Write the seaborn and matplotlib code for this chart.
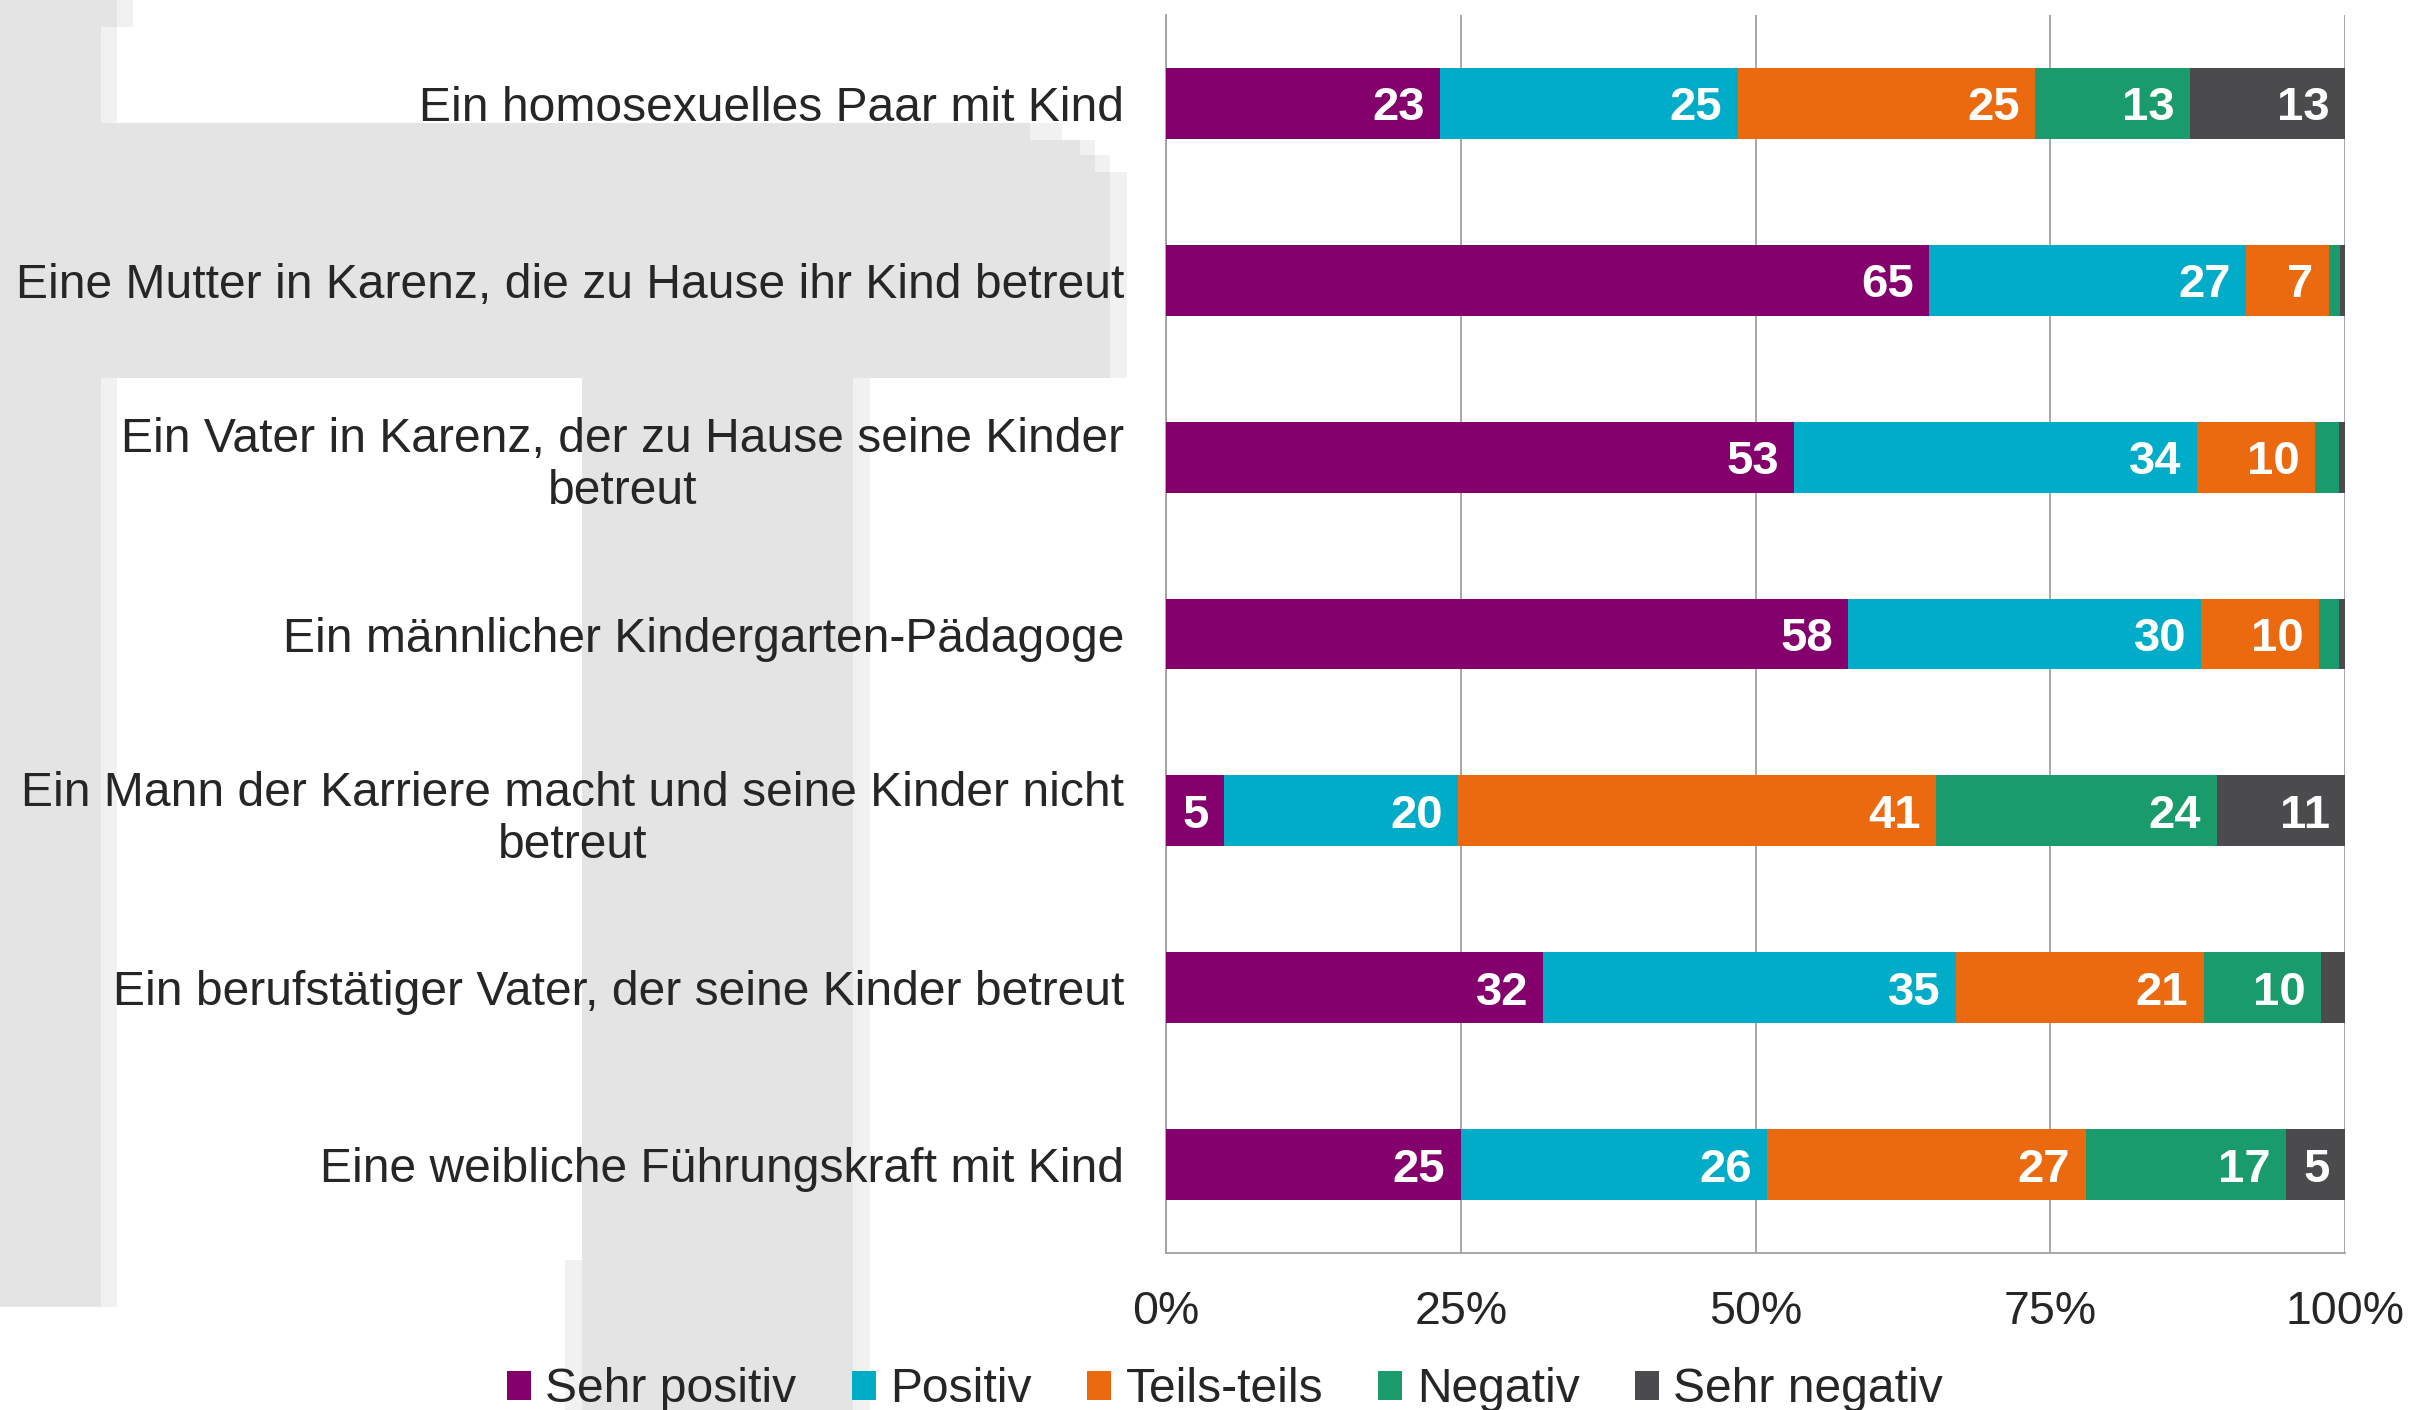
import numpy as np
import pandas as pd
import matplotlib
matplotlib.use("Agg")
import matplotlib.pyplot as plt
import seaborn as sns
from matplotlib.patches import Patch, Rectangle

# Data (percent of respondents)
categories = [
    "Ein homosexuelles Paar mit Kind",
    "Eine Mutter in Karenz, die zu Hause ihr Kind betreut",
    "Ein Vater in Karenz, der zu Hause seine Kinder\nbetreut",
    "Ein männlicher Kindergarten-Pädagoge",
    "Ein Mann der Karriere macht und seine Kinder nicht\nbetreut",
    "Ein berufstätiger Vater, der seine Kinder betreut",
    "Eine weibliche Führungskraft mit Kind",
]
series = ["Sehr positiv", "Positiv", "Teils-teils", "Negativ", "Sehr negativ"]
sehr_positiv = [23, 65, 53, 58, 5, 32, 25]
positiv = [25, 27, 34, 30, 20, 35, 26]
teils_teils = [25, 7, 10, 10, 41, 21, 27]
negativ = [13, 1, 2, 1.7, 24, 10, 17]
sehr_negativ = [13, 0.4, 0.5, 0.5, 11, 2, 5]
colors = ["#84006C", "#00ACC7", "#EB690F", "#1A9B6C", "#4B4B4D"]
x_ticks = [0, 25, 50, 75, 100]

df = pd.DataFrame(
    {"Sehr positiv": sehr_positiv, "Positiv": positiv, "Teils-teils": teils_teils,
     "Negativ": negativ, "Sehr negativ": sehr_negativ},
    index=categories,
)
shares = df.div(df.sum(axis=1), axis=0) * 100
cum = shares.cumsum(axis=1)

sns.set_style("white")
plt.rcParams["font.family"] = ["Liberation Sans", "DejaVu Sans"]

W, H = 2411, 1410
fig = plt.figure(figsize=(W / 100, H / 100), dpi=100)


def px_rect(x0, y0, x1, y1, color):
    # rectangle in pixel coords measured from the top-left corner
    fig.patches.append(Rectangle((x0 / W, 1 - y1 / H), (x1 - x0) / W, (y1 - y0) / H,
                                 transform=fig.transFigure, facecolor=color,
                                 edgecolor="none", zorder=-10))


# grey watermark in the background
wm, wl = "#E4E4E4", "#F1F1F1"
px_rect(0, 0, 101, 1307, wm)
px_rect(101, 27, 117, 1307, wl)
px_rect(101, 0, 117, 27, wm)
px_rect(117, 0, 133, 27, wl)
px_rect(0, 123, 1030, 378, wm)
px_rect(1030, 123, 1062, 140, wl)
px_rect(1030, 140, 1080, 155, wm)
px_rect(1080, 140, 1095, 155, wl)
px_rect(1030, 155, 1095, 172, wm)
px_rect(1095, 155, 1110, 172, wl)
px_rect(1030, 172, 1110, 378, wm)
px_rect(1110, 172, 1127, 378, wl)
px_rect(582, 378, 853, 1410, wm)
px_rect(565, 1260, 582, 1410, wl)
px_rect(853, 378, 870, 1410, wl)

ax = fig.add_axes([1166 / W, 1 - 1253 / H, 1179 / W, 1238 / H])
ax.patch.set_alpha(0)

# stacked bars: draw cumulative totals from the last series back to the first
for k in range(len(series) - 1, -1, -1):
    sns.barplot(x=cum[series[k]].values, y=categories, orient="h", color=colors[k],
                saturation=1, width=0.4, linewidth=0, errorbar=None, ax=ax, zorder=3)

# value labels inside the end of each segment
for i, cat in enumerate(categories):
    for k, s in enumerate(series):
        val = df.loc[cat, s]
        if val >= 4:
            ax.annotate(f"{val:.0f}", xy=(cum.loc[cat, s], i), xytext=(-11, 0),
                        textcoords="offset points", ha="right", va="center_baseline",
                        color="white", fontsize=34, fontweight="bold", zorder=5)

grey = "#A0A0A0"
ax.set_xlim(0, 100)
ax.set_ylim(len(categories) - 0.5, -0.5)
ax.set_xticks(x_ticks)
ax.set_xticklabels([f"{t}%" for t in x_ticks])
ax.set_yticks(range(len(categories)))
ax.set_yticklabels(categories, multialignment="center", linespacing=1.2)
ax.set_yticks(np.arange(-0.5, len(categories), 1), minor=True)
ax.set_xlabel("")
ax.set_ylabel("")
ax.xaxis.grid(True, color=grey, linewidth=1.3, zorder=0)
ax.yaxis.grid(False)
ax.set_axisbelow(True)
for side in ["top", "right"]:
    ax.spines[side].set_visible(False)
for side in ["left", "bottom"]:
    ax.spines[side].set_color(grey)
    ax.spines[side].set_linewidth(1.3)
ax.tick_params(axis="y", which="major", length=0, pad=30, labelsize=34.6)
ax.tick_params(axis="y", which="minor", length=9, width=1.3, color=grey, direction="out")
ax.tick_params(axis="x", which="major", length=10, width=1.3, color=grey,
               direction="out", pad=17, labelsize=33.5)

handles = [Patch(facecolor=c, edgecolor="none", label=s) for s, c in zip(series, colors)]
fig.legend(handles=handles, loc="center", bbox_to_anchor=(1225 / W, 1 - 1390 / H), ncol=5,
           frameon=False, fontsize=34.6, handlelength=0.5, handleheight=0.55,
           handletextpad=0.3, columnspacing=1.15, borderaxespad=0, borderpad=0)

fig.savefig("out.png", dpi=100)
